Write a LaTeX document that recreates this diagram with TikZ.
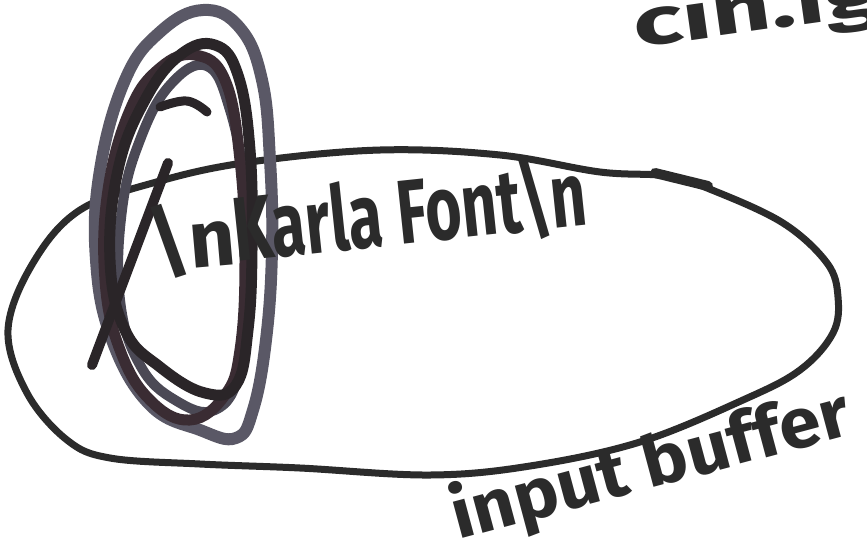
\documentclass[tikz,border=0pt]{standalone}
\usepackage{fontspec}
\setmainfont{Fira Sans}
\definecolor{ink}{HTML}{2B2B2B}
\definecolor{scrA}{HTML}{5A5866}
\definecolor{scrB}{HTML}{2A2528}
\definecolor{scrC}{HTML}{4B4955}
\definecolor{scrD}{HTML}{3A2C33}
\tikzset{
  pen/.style={draw=ink, line width=7pt, line cap=round, line join=round},
  scribble/.style={line width=#1, line cap=round, line join=round},
  hand/.style={inner sep=0pt, text=ink, font=\bfseries},
}
\begin{document}
\begin{tikzpicture}[x=1pt,y=-1pt]
\useasboundingbox (0,0) rectangle (867,555);
\clip (0,0) rectangle (867,555);
\fill[white] (0,0) rectangle (867,555);

% input buffer outline
\draw[pen] plot[smooth cycle, tension=0.6] coordinates {
  (80,210) (160,181) (250,162) (380,150) (500,155) (600,172) (667,176)
  (712,190) (783,223) (827,263) (838,297) (833,333) (800,370) (743,400)
  (640,442) (530,466) (430,475) (300,468) (200,464) (110,458) (67,440)
  (27,393) (8,330) (33,263)};
\draw[ink, line width=10pt, line cap=round] (655,173) -- (708,186);

% scribble over the first \n
\draw[scrA, scribble=12pt] plot[smooth cycle, tension=0.7] coordinates {
  (203,10) (240,28) (262,80) (270,160) (272,250) (266,340) (253,410)
  (236,438) (200,430) (150,405) (112,340) (96,260) (100,170) (125,80) (160,32)};
\draw[scrC, scribble=10pt] plot[smooth cycle, tension=0.7] coordinates {
  (207,66) (230,110) (245,190) (248,280) (240,370) (215,410) (175,400)
  (140,365) (120,300) (122,210) (140,140) (170,85)};
\draw[scrD, scribble=11pt] plot[smooth cycle, tension=0.7] coordinates {
  (195,55) (225,80) (240,160) (245,260) (240,350) (225,395) (190,420)
  (150,400) (120,350) (105,280) (108,190) (130,110) (160,68)};
\draw[scrB, scribble=11pt] plot[smooth cycle, tension=0.7] coordinates {
  (215,45) (238,75) (250,150) (252,250) (248,330) (236,385) (205,393)
  (160,367) (125,330) (110,260) (118,170) (145,100) (180,55)};
\draw[scrB, scribble=9pt] plot[smooth, tension=0.7] coordinates {
  (160,107) (187,101) (207,112)};
\draw[scrB, scribble=10pt] (168,163) -- (92,365);

% texts
\node[hand, anchor=base west, rotate=5] (nl) at (150,272)
  {\resizebox{88pt}{66pt}{\textbackslash n}};
\node[hand, anchor=base west, rotate=6] (karla) at (236,262)
  {\resizebox{355pt}{74pt}{Karla Font\textbackslash n}};
\node[hand, anchor=base west, rotate=15] (buf) at (458,540)
  {\resizebox{410pt}{57pt}{input buffer}};
\node[hand, anchor=base west, rotate=8] (cin) at (636,48)
  {\resizebox{250pt}{54pt}{cin.ig}};
\end{tikzpicture}
\end{document}
